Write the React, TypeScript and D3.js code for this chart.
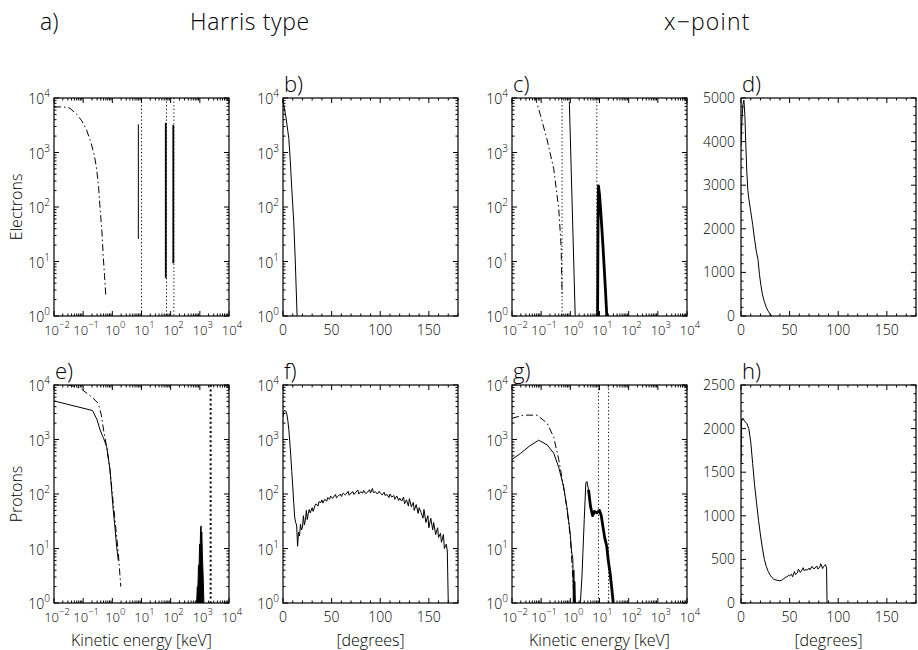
import React from 'react';
import * as d3 from 'd3';

type Pt = [number, number];

// ---------- texts ----------
const headerLetter = 'a)';
const headerHarris = 'Harris type';
const headerXpoint = 'x\u2212point';
const rowTitles = ['Electrons', 'Protons'];
const energyTitle = 'Kinetic energy [keV]';
const angleTitle = '[degrees]';

// ---------- axes ----------
const energyDomain: [number, number] = [1e-2, 1e4];
const countDomain: [number, number] = [1, 1e4];
const angleDomain: [number, number] = [0, 180];
const angleMajor = [0, 50, 100, 150];
const angleMinorStep = 10;
const dDomain: [number, number] = [0, 5000];
const dMajor = [0, 1000, 2000, 3000, 4000, 5000];
const dMinorStep = 200;
const hDomain: [number, number] = [0, 2500];
const hMajor = [0, 500, 1000, 1500, 2000, 2500];
const hMinorStep = 100;

// ---------- data: a) electrons, Harris, energy ----------
const aDashDot: Pt[] = [[0.01, 6800], [0.02, 6900], [0.035, 6500], [0.06, 5000], [0.09, 3800], [0.13, 2600], [0.18, 1600], [0.24, 900], [0.29, 500], [0.34, 220], [0.38, 95], [0.44, 35], [0.49, 12], [0.54, 5.5], [0.58, 3], [0.6, 2.2]];
const aSolidThin: Pt[] = [[7.8, 26], [7.8, 3300]];
const aSpike1: Pt[] = [[68, 5], [68, 3500]];
const aSpike2: Pt[] = [[123, 9.3], [123, 3200]];
const aDotted = [10, 72, 129];

// ---------- b) electrons, Harris, pitch angle ----------
const bSolid: Pt[] = [[0, 9000], [3, 4500], [6, 1800], [7.5, 700], [9, 220], [11, 55], [12.5, 12], [14.5, 1]];

// ---------- c) electrons, x-point, energy ----------
const cDashDot: Pt[] = [[0.01, 22000], [0.03, 17000], [0.063, 10000], [0.093, 5000], [0.16, 1700], [0.27, 500], [0.4, 93], [0.45, 35], [0.48, 20], [0.5, 8], [0.52, 2.8], [0.53, 2.3]];
const cSolidThin: Pt[] = [[0.92, 8500], [0.93, 7600], [1.47, 1]];
const cSolidBand: Pt[] = [[8.6, 1], [8.9, 60], [9.2, 245], [10, 170], [11, 85], [12, 42], [13, 21], [14, 10.5], [15, 5.5], [16, 3], [17, 1.6], [17.8, 1]];
const cDotted = [0.52, 8.1];

// ---------- d) electrons, x-point, pitch angle ----------
const dSolid: Pt[] = [[0, 3900], [1, 4500], [2, 4850], [3, 4950], [4, 4600], [5, 3900], [6, 3300], [7, 2900], [8, 2700], [10, 2400], [12, 2100], [14, 1750], [16, 1450], [17.5, 1300], [19, 950], [20.5, 700], [22, 500], [24, 330], [26, 200], [28, 110], [30, 40], [32, 0]];

// ---------- e) protons, Harris, energy ----------
const eSolid: Pt[] = [[0.01, 5100], [0.21, 3400], [0.3, 2300], [0.38, 1500], [0.5, 1050], [0.64, 740], [0.83, 280], [1.07, 52], [1.25, 22], [1.4, 11], [1.6, 6]];
const eDashDot: Pt[] = [[0.01, 12000], [0.08, 8700], [0.2, 6000], [0.33, 4600], [0.42, 2800], [0.5, 1500], [0.65, 700], [0.83, 280], [1.0, 100], [1.23, 34], [1.6, 8.4], [1.95, 2]];
const eSpike: Pt[] = [[776, 1], [820, 2], [850, 1.6], [900, 5], [940, 4], [980, 12], [1020, 9], [1060, 22], [1100, 26], [1130, 17], [1170, 20], [1220, 8], [1260, 5], [1300, 3], [1380, 1]];
const eDotted = [2350];

// ---------- f) protons, Harris, pitch angle ----------
const fSolid: Pt[] = [[0, 2600], [1, 3300], [2, 3450], [3, 3300], [4, 2900], [5, 2200], [6, 1500], [7, 900], [8, 500], [9, 260], [10, 140], [11, 70], [12, 38], [13, 30], [14, 27], [15, 11], [16, 20], [17, 17], [18, 28], [19, 22], [20, 24], [21, 40], [22, 27], [23, 33], [24, 50], [25, 34], [26, 44], [27, 52], [28, 45], [30, 56], [31, 48], [33, 62], [34, 66], [36, 60], [37, 72], [39, 70], [40, 78], [41, 68], [43, 80], [45, 74], [46, 86], [48, 80], [49, 92], [51, 83], [52, 88], [54, 98], [55, 85], [57, 92], [59, 100], [60, 90], [62, 104], [64, 96], [65, 100], [67, 112], [68, 95], [70, 104], [72, 110], [73, 98], [75, 108], [77, 118], [78, 100], [80, 110], [82, 104], [83, 116], [85, 102], [87, 108], [89, 120], [90, 104], [92, 126], [93, 106], [95, 110], [97, 100], [99, 112], [100, 104], [102, 96], [104, 108], [105, 94], [107, 98], [109, 86], [110, 100], [112, 88], [114, 94], [115, 80], [117, 92], [119, 76], [120, 84], [122, 74], [124, 88], [125, 66], [127, 78], [129, 60], [130, 82], [132, 58], [134, 70], [135, 50], [137, 64], [139, 44], [140, 56], [142, 46], [144, 36], [145, 52], [147, 30], [149, 40], [150, 24], [152, 36], [154, 22], [155, 30], [157, 18], [159, 24], [160, 16], [162, 19], [163, 13], [165, 18], [166, 10], [168, 12], [169, 9], [170, 1]];

// ---------- g) protons, x-point, energy ----------
const gSolid: Pt[] = [[0.01, 430], [0.02, 560], [0.04, 760], [0.082, 970], [0.16, 800], [0.27, 560], [0.4, 310], [0.58, 140], [0.76, 59], [0.99, 19], [1.1, 9], [1.22, 6.3], [1.27, 1], [1.32, 4], [1.38, 1], [1.42, 2.5], [1.5, 1], [2.2, 1], [2.5, 3], [2.7, 8.4], [3.0, 34], [3.4, 160], [3.7, 170], [4.2, 120]];
const gSolidBand: Pt[] = [[4.2, 120], [4.9, 60], [5.8, 40], [6.7, 48], [8, 45], [9.2, 48], [10, 50], [11.5, 40], [13, 26], [15, 16], [17.7, 11], [20, 6], [23, 3.6], [26, 2], [29.6, 1]];
const gDashDot: Pt[] = [[0.01, 2450], [0.025, 2800], [0.072, 2800], [0.16, 2000], [0.27, 1100], [0.4, 430], [0.58, 140], [0.76, 55], [0.99, 17], [1.15, 5], [1.3, 1.5]];
const gDotted = [9.2, 20.5];

// ---------- h) protons, x-point, pitch angle ----------
const hSolid: Pt[] = [[0, 1600], [0.5, 2100], [2, 2120], [4, 2080], [6, 2060], [8, 2000], [10, 1850], [12, 1600], [14, 1350], [16, 1150], [18, 950], [20, 780], [22, 630], [24, 500], [26, 420], [28, 360], [30, 320], [32, 290], [34, 270], [36, 265], [38, 258], [40, 255], [42, 262], [44, 280], [46, 295], [48, 305], [49, 320], [50, 312], [52, 330], [53, 300], [55, 360], [56, 325], [58, 345], [59, 390], [61, 350], [62, 365], [64, 405], [65, 370], [67, 385], [68, 375], [70, 400], [71, 380], [73, 420], [75, 390], [76, 400], [78, 425], [79, 390], [81, 410], [82, 450], [84, 395], [85, 420], [87, 440], [88, 400], [88.5, 0]];

// ---------- layout ----------
const W = 918;
const H = 650;
const colLeft = [54, 283, 512, 741];
const rowTop = [98, 385];
const panelW = 175;
const panelH = 218;
const FONT = "'Open Sans', 'DejaVu Sans', sans-serif";

type Series = { data: Pt[]; style: 'solid' | 'thick' | 'band' | 'dashdot' | 'fill' };
type VLines = { values: number[]; style: 'dot' | 'dotBold' };
type PanelCfg = {
  id: string; letter: string; col: number; row: number;
  xType: 'log' | 'lin'; yType: 'log' | 'lin';
  xDomain: [number, number]; yDomain: [number, number];
  yMajor?: number[]; yMinorStep?: number;
  series: Series[]; vlines: VLines[]; xTitle: string | null;
};

const panels: PanelCfg[] = [
  { id: 'a', letter: '', col: 0, row: 0, xType: 'log', yType: 'log', xDomain: energyDomain, yDomain: countDomain,
    series: [{ data: aDashDot, style: 'dashdot' }, { data: aSolidThin, style: 'solid' }, { data: aSpike1, style: 'thick' }, { data: aSpike2, style: 'thick' }],
    vlines: [{ values: aDotted, style: 'dot' }], xTitle: null },
  { id: 'b', letter: 'b)', col: 1, row: 0, xType: 'lin', yType: 'log', xDomain: angleDomain, yDomain: countDomain,
    series: [{ data: bSolid, style: 'solid' }], vlines: [], xTitle: null },
  { id: 'c', letter: 'c)', col: 2, row: 0, xType: 'log', yType: 'log', xDomain: energyDomain, yDomain: countDomain,
    series: [{ data: cDashDot, style: 'dashdot' }, { data: cSolidThin, style: 'solid' }, { data: cSolidBand, style: 'band' }],
    vlines: [{ values: cDotted, style: 'dot' }], xTitle: null },
  { id: 'd', letter: 'd)', col: 3, row: 0, xType: 'lin', yType: 'lin', xDomain: angleDomain, yDomain: dDomain, yMajor: dMajor, yMinorStep: dMinorStep,
    series: [{ data: dSolid, style: 'solid' }], vlines: [], xTitle: null },
  { id: 'e', letter: 'e)', col: 0, row: 1, xType: 'log', yType: 'log', xDomain: energyDomain, yDomain: countDomain,
    series: [{ data: eDashDot, style: 'dashdot' }, { data: eSolid, style: 'solid' }, { data: eSpike, style: 'fill' }],
    vlines: [{ values: eDotted, style: 'dotBold' }], xTitle: energyTitle },
  { id: 'f', letter: 'f)', col: 1, row: 1, xType: 'lin', yType: 'log', xDomain: angleDomain, yDomain: countDomain,
    series: [{ data: fSolid, style: 'solid' }], vlines: [], xTitle: angleTitle },
  { id: 'g', letter: 'g)', col: 2, row: 1, xType: 'log', yType: 'log', xDomain: energyDomain, yDomain: countDomain,
    series: [{ data: gDashDot, style: 'dashdot' }, { data: gSolid, style: 'solid' }, { data: gSolidBand, style: 'band' }],
    vlines: [{ values: gDotted, style: 'dot' }], xTitle: energyTitle },
  { id: 'h', letter: 'h)', col: 3, row: 1, xType: 'lin', yType: 'lin', xDomain: angleDomain, yDomain: hDomain, yMajor: hMajor, yMinorStep: hMinorStep,
    series: [{ data: hSolid, style: 'solid' }], vlines: [], xTitle: angleTitle },
];

function logTicks(domain: [number, number]) {
  const major: number[] = [];
  const minor: number[] = [];
  const e0 = Math.round(Math.log10(domain[0]));
  const e1 = Math.round(Math.log10(domain[1]));
  for (let e = e0; e <= e1; e++) {
    major.push(Math.pow(10, e));
    if (e < e1) for (let k = 2; k <= 9; k++) minor.push(k * Math.pow(10, e));
  }
  return { major, minor };
}

function linMinor(domain: [number, number], step: number, major: number[]) {
  const out: number[] = [];
  for (let v = domain[0]; v <= domain[1] + 1e-9; v += step) {
    if (!major.some((m) => Math.abs(m - v) < 1e-6)) out.push(v);
  }
  return out;
}

function expLabel(v: number) {
  const e = Math.round(Math.log10(v));
  return e < 0 ? '\u2212' + String(-e) : String(e);
}

function Panel({ p }: { p: PanelCfg }) {
  const x0 = colLeft[p.col];
  const y0 = rowTop[p.row];
  const x1 = x0 + panelW;
  const yB = y0 + panelH;
  const xs: any = p.xType === 'log' ? d3.scaleLog().domain(p.xDomain).range([x0, x1]) : d3.scaleLinear().domain(p.xDomain).range([x0, x1]);
  const ys: any = p.yType === 'log' ? d3.scaleLog().domain(p.yDomain).range([yB, y0]) : d3.scaleLinear().domain(p.yDomain).range([yB, y0]);

  let xMajor: number[];
  let xMinor: number[];
  if (p.xType === 'log') {
    const t = logTicks(p.xDomain);
    xMajor = t.major; xMinor = t.minor;
  } else {
    xMajor = angleMajor; xMinor = linMinor(p.xDomain, angleMinorStep, angleMajor);
  }
  let yMajor: number[];
  let yMinor: number[];
  if (p.yType === 'log') {
    const t = logTicks(p.yDomain);
    yMajor = t.major; yMinor = t.minor;
  } else {
    yMajor = p.yMajor || []; yMinor = linMinor(p.yDomain, p.yMinorStep || 100, yMajor);
  }

  const yFloor = p.yDomain[0];
  const line = d3.line<Pt>().x((d) => xs(d[0])).y((d) => ys(p.yType === 'log' ? Math.max(d[1], yFloor) : d[1]));
  const area = d3.area<Pt>().x((d) => xs(d[0])).y0(yB).y1((d) => ys(Math.max(d[1], yFloor)));

  const majLen = 5;
  const minLen = 2.5;
  const tickEls: any[] = [];
  const addX = (v: number, len: number, k: string) => {
    const X = xs(v);
    tickEls.push(<line key={'xb' + k} x1={X} x2={X} y1={yB} y2={yB - len} />);
    tickEls.push(<line key={'xt' + k} x1={X} x2={X} y1={y0} y2={y0 + len} />);
  };
  const addY = (v: number, len: number, k: string) => {
    const Y = ys(v);
    tickEls.push(<line key={'yl' + k} x1={x0} x2={x0 + len} y1={Y} y2={Y} />);
    tickEls.push(<line key={'yr' + k} x1={x1} x2={x1 - len} y1={Y} y2={Y} />);
  };
  xMajor.forEach((v, i) => addX(v, majLen, 'M' + i));
  xMinor.forEach((v, i) => addX(v, minLen, 'm' + i));
  yMajor.forEach((v, i) => addY(v, majLen, 'M' + i));
  yMinor.forEach((v, i) => addY(v, minLen, 'm' + i));

  const styleFor = (s: Series['style']) => {
    switch (s) {
      case 'thick': return { stroke: '#000', strokeWidth: 1.8, fill: 'none' };
      case 'band': return { stroke: '#000', strokeWidth: 2.8, fill: 'none' };
      case 'dashdot': return { stroke: '#000', strokeWidth: 1, fill: 'none', strokeDasharray: '7,3,1.5,3' };
      case 'fill': return { stroke: '#000', strokeWidth: 1, fill: '#000' };
      default: return { stroke: '#000', strokeWidth: 1, fill: 'none' };
    }
  };

  const clipId = 'clip-' + p.id;
  return (
    <g>
      <defs>
        <clipPath id={clipId}>
          <rect x={x0} y={y0} width={panelW} height={panelH} />
        </clipPath>
      </defs>
      <g clipPath={`url(#${clipId})`}>
        {p.vlines.map((vl, i) =>
          vl.values.map((v, j) => (
            <line key={`v${i}-${j}`} x1={xs(v)} x2={xs(v)} y1={y0} y2={yB} stroke="#000"
              strokeWidth={vl.style === 'dotBold' ? 2 : 1} strokeDasharray={vl.style === 'dotBold' ? '2,2.6' : '1.2,2.4'} />
          ))
        )}
        {p.series.map((s, i) => (
          <path key={'s' + i} d={(s.style === 'fill' ? area(s.data) : line(s.data)) || ''} {...(styleFor(s.style) as any)} strokeLinejoin="round" />
        ))}
      </g>
      <g stroke="#000" strokeWidth={1}>{tickEls}</g>
      <rect x={x0} y={y0} width={panelW} height={panelH} fill="none" stroke="#000" strokeWidth={1.2} />
      {yMajor.map((v, i) => (
        p.yType === 'log' ? (
          <text key={'yl' + i} x={x0 - 4} y={ys(v) + 6} textAnchor="end" fontSize={14}>
            10<tspan dy={-7} fontSize={10}>{expLabel(v)}</tspan>
          </text>
        ) : (
          <text key={'yl' + i} x={x0 - 6} y={ys(v) + 5} textAnchor="end" fontSize={14}>{String(v)}</text>
        )
      ))}
      {xMajor.map((v, i) => (
        p.xType === 'log' ? (
          <text key={'xl' + i} x={xs(v) + 3} y={yB + 19} textAnchor="middle" fontSize={13}>
            10<tspan dy={-7} fontSize={9.5}>{expLabel(v)}</tspan>
          </text>
        ) : (
          <text key={'xl' + i} x={xs(v)} y={yB + 19} textAnchor="middle" fontSize={14}>{String(v)}</text>
        )
      ))}
      {p.letter && <text x={x0 + 1} y={y0 - 6} fontSize={22}>{p.letter}</text>}
      {p.xTitle && <text x={(x0 + x1) / 2} y={yB + 43} textAnchor="middle" fontSize={16}>{p.xTitle}</text>}
    </g>
  );
}

export default function App() {
  return (
    <svg width={W} height={H} style={{ position: 'absolute', left: 0, top: 0, background: '#fff' }} fontFamily={FONT} fontWeight={300} fill="#000">
      <rect x={0} y={0} width={W} height={H} fill="#fff" />
      <text x={40} y={30} fontSize={23}>{headerLetter}</text>
      <text x={190} y={30} fontSize={23} letterSpacing={0.6}>{headerHarris}</text>
      <text x={664} y={30} fontSize={23} letterSpacing={1.2}>{headerXpoint}</text>
      {rowTitles.map((t, i) => (
        <text key={t} transform={`translate(22,${rowTop[i] + panelH / 2}) rotate(-90)`} textAnchor="middle" fontSize={16}>{t}</text>
      ))}
      {panels.map((p) => <Panel key={p.id} p={p} />)}
    </svg>
  );
}
